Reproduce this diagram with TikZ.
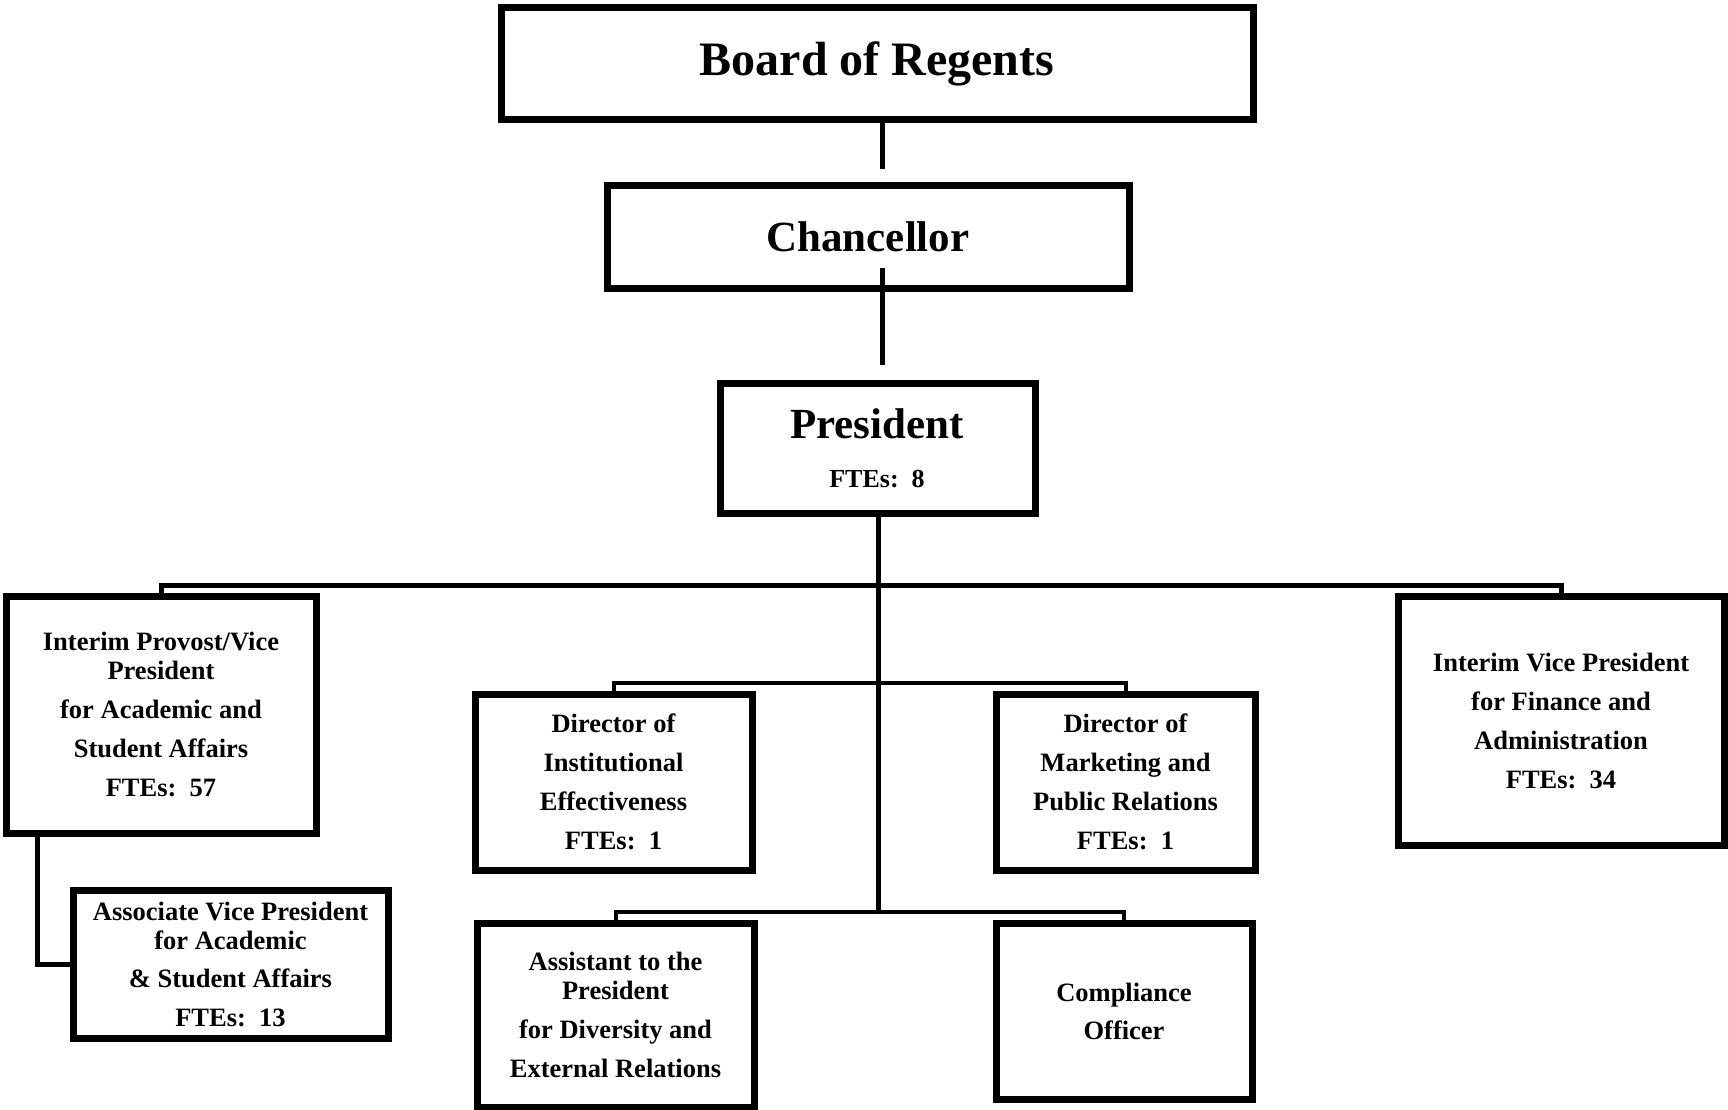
\documentclass[tikz,border=0pt]{standalone}
\usepackage{fontspec}
\setmainfont{Liberation Serif}
\begin{document}
\begin{tikzpicture}[x=1pt,y=-1pt,
  box/.style={draw, line width=7pt, rectangle, inner sep=0pt, align=center,
    font=\bfseries\fontsize{26.5}{29}\selectfont},
  label/.style={inner sep=0pt, align=center},
  conn/.style={line width=5pt},
  thinconn/.style={line width=4pt}]
\useasboundingbox (0,0) rectangle (1728,1110);
% top boxes
\node[box, minimum width=752pt, minimum height=112pt,
  font=\bfseries\fontsize{48}{52}\selectfont] (board) at (877,64) {Board of Regents};
\node[box, minimum width=522pt, minimum height=102pt,
  font=\bfseries\fontsize{43}{47}\selectfont] (chancellor) at (868,237) {Chancellor};
\node[box, minimum width=315pt, minimum height=130pt] (president) at (877.5,448) {};
\node[label, font=\bfseries\fontsize{43}{47}\selectfont] (prestitle) at (877,424) {President};
\node[label, font=\bfseries\fontsize{26}{29}\selectfont] (presfte) at (877,479) {FTEs:\ \ 8};
% second level
\node[box, minimum width=310pt, minimum height=237pt] (provost) at (161,714.5)
  {Interim Provost/Vice\\President\\[10pt]for Academic and\\[10pt]Student Affairs\\[10pt]FTEs:\ \ 57};
\node[box, minimum width=315pt, minimum height=148pt] (assoc) at (230.5,964)
  {Associate Vice President\\for Academic\\[9pt]\&\ Student Affairs\\[10pt]FTEs:\ \ 13};
\node[box, minimum width=326pt, minimum height=249pt] (finance) at (1561,720.5)
  {Interim Vice President\\[10pt]for Finance and\\[10pt]Administration\\[10pt]FTEs:\ \ 34};
\node[box, minimum width=277pt, minimum height=176pt] (inst) at (613.5,782)
  {Director of\\[10pt]Institutional\\[10pt]Effectiveness\\[10pt]FTEs:\ \ 1};
\node[box, minimum width=259pt, minimum height=176pt] (mkt) at (1125.5,782)
  {Director of\\[10pt]Marketing and\\[10pt]Public Relations\\[10pt]FTEs:\ \ 1};
\node[box, minimum width=277pt, minimum height=184pt] (assist) at (615.5,1015)
  {Assistant to the\\President\\[10pt]for Diversity and\\[10pt]External Relations};
\node[box, minimum width=256pt, minimum height=176pt] (compl) at (1124,1011)
  {Compliance\\[9pt]Officer};
% connector coordinates
\coordinate (c1) at (882,169);
\coordinate (c2) at (882,268);
\coordinate (c3) at (882,365);
\coordinate (pb) at (878,912);
\coordinate (bus1) at (878,585);
\coordinate (bus2) at (878,683);
\coordinate (bus3) at (878,912);
\coordinate (ak) at (37,965);
% connectors
\draw[conn] (board.south -| c1) -- (c1);
\draw[conn] (c2) -- (c3);
\draw[conn] (president.south -| pb) -- (pb);
\draw[conn] (provost.north) -- (provost.north |- bus1) -- (finance.north |- bus1) -- (finance.north);
\draw[thinconn] (inst.north) -- (inst.north |- bus2) -- (mkt.north |- bus2) -- (mkt.north);
\draw[thinconn] (assist.north) -- (assist.north |- bus3) -- (compl.north |- bus3) -- (compl.north);
\draw[conn] (provost.south -| ak) |- (assoc.west);
\end{tikzpicture}
\end{document}
